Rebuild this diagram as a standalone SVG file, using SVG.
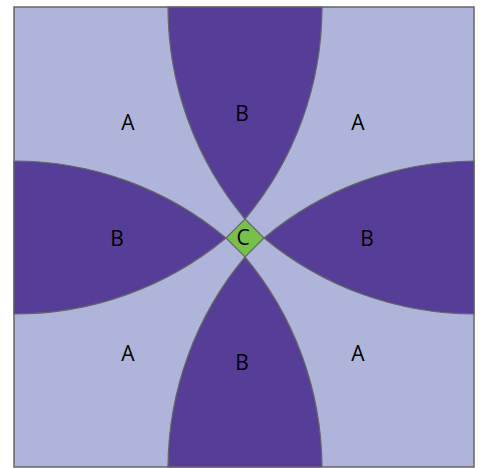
<svg xmlns="http://www.w3.org/2000/svg" width="483" height="468" viewBox="0 0 483 468">
<style>
.bg{fill:#afb5da;stroke:#666;stroke-width:1.5}
.petal{fill:#563e98;stroke:#666;stroke-width:1.2}
.dia{fill:#77c04b;stroke:#666;stroke-width:1.2}
text{font-family:"Open Sans","Liberation Sans",sans-serif;font-size:21px;fill:#000;text-anchor:middle;dominant-baseline:central}
</style>
<rect width="483" height="468" fill="#fff"/>
<g id="square"><rect class="bg" x="14" y="7" width="460" height="460"/></g>
<g id="petal-top"><path class="petal" d="M168,7 A330,330 0 0 0 245,219 A330,330 0 0 0 322,7 Z"/></g>
<g id="petal-bottom"><path class="petal" d="M168,467 A330,330 0 0 1 245,257 A330,330 0 0 1 322,467 Z"/></g>
<g id="petal-left"><path class="petal" d="M14,161 A330,330 0 0 1 226,238 A330,330 0 0 1 14,314 Z"/></g>
<g id="petal-right"><path class="petal" d="M474,161 A330,330 0 0 0 264,238 A330,330 0 0 0 474,314 Z"/></g>
<g id="center"><path class="dia" d="M245,219 L264,238 L245,257 L226,238 Z"/><text x="243" y="237">C</text></g>
<g id="labels">
<text x="128" y="122">A</text>
<text x="358" y="122">A</text>
<text x="128" y="353">A</text>
<text x="358" y="353">A</text>
<text x="242" y="113">B</text>
<text x="117" y="238">B</text>
<text x="367" y="238">B</text>
<text x="242" y="362">B</text>
</g>
</svg>
